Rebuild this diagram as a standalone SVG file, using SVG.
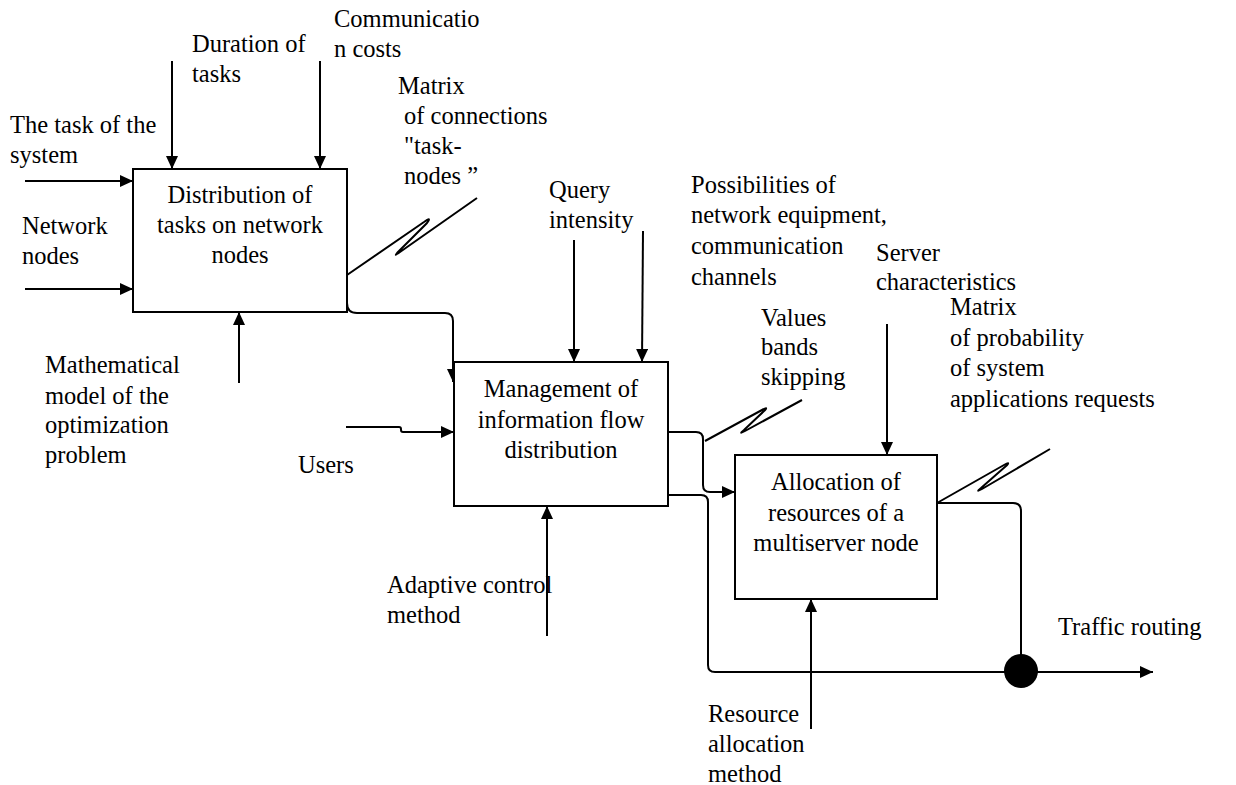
<svg xmlns="http://www.w3.org/2000/svg" width="1236" height="785" viewBox="0 0 1236 785">
<style>
.t{font-family:'Liberation Serif','Times New Roman',serif;font-size:24.5px;fill:#000}
.c{text-anchor:middle}
.box{fill:#fff;stroke:#000;stroke-width:2}
.ln{fill:none;stroke:#000;stroke-width:2}
</style>
<defs>
<marker id="ah" markerWidth="13" markerHeight="12" refX="13" refY="6" orient="auto" markerUnits="userSpaceOnUse"><path d="M0,0 L13,6 L0,12 z" fill="#000"/></marker>
</defs>
<rect width="1236" height="785" fill="#fff"/>
<g id="connectors">
<path class="ln" d="M25,181 H133" marker-end="url(#ah)"/>
<path class="ln" d="M25,289 H133" marker-end="url(#ah)"/>
<path class="ln" d="M172,61 V169" marker-end="url(#ah)"/>
<path class="ln" d="M320,61 V169" marker-end="url(#ah)"/>
<path class="ln" d="M239,383 V312" marker-end="url(#ah)"/>
<path class="ln" d="M347,303 Q347,313 357,313 H445 Q453,313 453,321 V382" marker-end="url(#ah)"/>
<path class="ln" d="M347,275 L424,222 Q432,216 427,223 L399,251 Q392,258 400,252 L477,198"/>
<path class="ln" d="M574,240 V362" marker-end="url(#ah)"/>
<path class="ln" d="M643,231 L642,362" marker-end="url(#ah)"/>
<path class="ln" d="M346,427 H399 Q401,427 401,429 V430 Q401,432 403,432 H454" marker-end="url(#ah)"/>
<path class="ln" d="M547,636 V506" marker-end="url(#ah)"/>
<path class="ln" d="M668,432 H696 Q703,432 703,439 V485 Q703,492 710,492 H735" marker-end="url(#ah)"/>
<path class="ln" d="M668,495 H701 Q708,495 708,502 V665 Q708,672 715,672 H1153" marker-end="url(#ah)"/>
<path class="ln" d="M937,503 H1013 Q1021,503 1021,511 V671"/>
<path class="ln" d="M705,441 L762,410 Q769,406 764,411 L744,430 Q738,435 745,431 L802,400"/>
<path class="ln" d="M937,503 L1004,465 Q1011,461 1006,466 L981,488 Q975,493 982,489 L1050,449"/>
<path class="ln" d="M887,324 V455" marker-end="url(#ah)"/>
<path class="ln" d="M811,729 V599" marker-end="url(#ah)"/>
<circle cx="1021" cy="671" r="17" fill="#000"/>
</g>
<g id="node-distribution">
<rect class="box" x="133" y="169" width="214" height="143"/>
<text class="t c" x="240" y="203">Distribution of</text>
<text class="t c" x="240" y="233">tasks on network</text>
<text class="t c" x="240" y="263">nodes</text>
</g>
<g id="node-management">
<rect class="box" x="454" y="362" width="214" height="144"/>
<text class="t c" x="561" y="397">Management of</text>
<text class="t c" x="561" y="428">information flow</text>
<text class="t c" x="561" y="458">distribution</text>
</g>
<g id="node-allocation">
<rect class="box" x="735" y="455" width="202" height="144"/>
<text class="t c" x="836" y="490">Allocation of</text>
<text class="t c" x="836" y="521">resources of a</text>
<text class="t c" x="836" y="551">multiserver node</text>
</g>
<g id="labels">
<text class="t" x="334" y="27">Communicatio</text>
<text class="t" x="334" y="57">n costs</text>
<text class="t" x="192" y="52">Duration of</text>
<text class="t" x="192" y="82">tasks</text>
<text class="t" x="398" y="94">Matrix</text>
<text class="t" x="404" y="124">of connections</text>
<text class="t" x="404" y="154">"task-</text>
<text class="t" x="404" y="184">nodes ”</text>
<text class="t" x="10" y="133">The task of the</text>
<text class="t" x="10" y="163">system</text>
<text class="t" x="22" y="234">Network</text>
<text class="t" x="22" y="264">nodes</text>
<text class="t" x="45" y="373">Mathematical</text>
<text class="t" x="45" y="404">model of the</text>
<text class="t" x="45" y="433">optimization</text>
<text class="t" x="45" y="463">problem</text>
<text class="t" x="298" y="473">Users</text>
<text class="t" x="549" y="198">Query</text>
<text class="t" x="549" y="228">intensity</text>
<text class="t" x="691" y="193">Possibilities of</text>
<text class="t" x="691" y="223">network equipment,</text>
<text class="t" x="691" y="254">communication</text>
<text class="t" x="691" y="285">channels</text>
<text class="t" x="876" y="261">Server</text>
<text class="t" x="876" y="290">characteristics</text>
<text class="t" x="761" y="326">Values</text>
<text class="t" x="761" y="355">bands</text>
<text class="t" x="761" y="385">skipping</text>
<text class="t" x="950" y="315">Matrix</text>
<text class="t" x="950" y="346">of probability</text>
<text class="t" x="950" y="376">of system</text>
<text class="t" x="950" y="407">applications requests</text>
<text class="t" x="387" y="593">Adaptive control</text>
<text class="t" x="387" y="623">method</text>
<text class="t" x="708" y="722">Resource</text>
<text class="t" x="708" y="752">allocation</text>
<text class="t" x="708" y="782">method</text>
<text class="t" x="1058" y="635">Traffic routing</text>
</g>
</svg>
